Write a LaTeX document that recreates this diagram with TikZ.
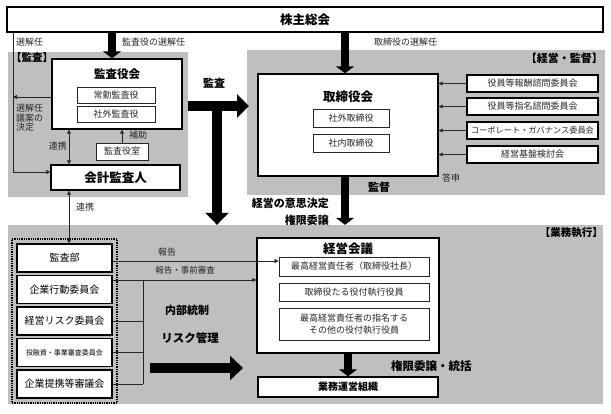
\documentclass[tikz,border=0pt]{standalone}
\usepackage{fontspec}
\setmainfont{Noto Sans CJK JP}
\usetikzlibrary{arrows.meta}
\definecolor{bggray}{RGB}{191,191,191}
\begin{document}
\begin{tikzpicture}[x=1pt,y=-1pt,
  rect/.style args={#1/#2/#3/#4}{at={({(#1+#3)/2},{(#2+#4)/2})},anchor=center,
     minimum width={(#3-#1)*1pt},minimum height={(#4-#2)*1pt}},
  bg/.style={fill=bggray,draw=none,inner sep=0pt},
  mainbox/.style={draw=black,line width=1.4pt,fill=white,inner sep=0pt},
  subbox/.style={draw=black!85,line width=0.8pt,fill=white,inner sep=0pt,text=black!85},
  commbox/.style={draw=black,line width=1.1pt,fill=white,inner sep=0pt,text=black!85},
  lbl/.style={inner sep=0pt,text=black!85,font=\fontsize{9}{10}\selectfont},
  t9/.style={font=\fontsize{9}{11}\selectfont},
  t10/.style={font=\fontsize{10}{12}\selectfont},
  bt/.style={inner sep=0pt,font=\bfseries\fontsize{11}{13}\selectfont},
  btitle/.style={inner sep=0pt,font=\bfseries\fontsize{12.5}{14}\selectfont},
  tarrow/.style={draw=black!85,line width=0.6pt,-{Triangle[length=4pt,width=4pt]}},
  tarrow2/.style={draw=black!85,line width=0.6pt,{Triangle[length=4pt,width=4pt]}-{Triangle[length=4pt,width=4pt]}},
  tline/.style={draw=black!85,line width=0.6pt},
  bigA/.style={line width=8pt,-{Triangle[length=7pt,width=18pt]}},
  bigB/.style={line width=10pt,-{Triangle[length=12pt,width=23pt]}},
]
\useasboundingbox (0,0) rectangle (611,413);
\fill[white] (0,0) rectangle (611,413);

% backgrounds
\node[bg,rect=8/52/188/197] (auditbg) {};
\node[bg,rect=247/50/605/195] (mgmtbg) {};
\node[bg,rect=8/225/603/404] (execbg) {};

% shareholders meeting
\node[mainbox,rect=7/7/603/32,font=\bfseries\fontsize{12.5}{14}\selectfont] (agm) {株主総会};

% top labels
\node[lbl,anchor=west] (l1) at (16,42) {選解任};
\node[lbl,anchor=west] (l2) at (122,42) {監査役の選解任};
\node[lbl,anchor=west] (l3) at (374,42) {取締役の選解任};

% audit area
\node[bt,anchor=west,font=\bfseries\fontsize{10.5}{12}\selectfont] (labA) at (11,58) {【監査】};
\node[mainbox,rect=52/59/182/129] (kab) {};
\node[btitle,font=\bfseries\fontsize{11.5}{13}\selectfont] (kabT) at (117,74) {監査役会};
\node[subbox,rect=77/87/155/103,t9] (jokin) {常勤監査役};
\node[subbox,rect=77/106/155/122,t9] (shagai) {社外監査役};
\node[subbox,rect=96/143/148/160,t9] (shitsu) {監査役室};
\node[mainbox,rect=51/165/180/190,font=\bfseries\fontsize{12.5}{14}\selectfont] (kaikei) {会計監査人};

\draw[tarrow] (shitsu.north) -- (shitsu.north |- kab.south);
\node[lbl,anchor=west] (hojo) at (129,135) {補助};
\draw[tarrow2] (kaikei.north -| 69,0) -- (kab.south -| 69,0);
\node[lbl,anchor=east] (renkei1) at (67,146) {連携};

\coordinate (lt) at (13,32);
\coordinate (lb) at (13,172);
\draw[tline] (lt) -- (lb);
\draw[tarrow] (lb) -- (lb -| kaikei.west);
\draw[tarrow] (kab.west |- 0,97) -- (13,97);
\node[lbl,anchor=north west,align=left,font=\fontsize{9}{9.6}\selectfont] (giansel) at (16,104) {選解任\\議案の\\決定};

\draw[bigA] (agm.south -| 112,0) -- (kab.north -| 112,0);

% audit -> thick T arrow
\draw[bigB] (auditbg.east |- 0,106) -- (249,106);
\draw[bigB] (217,101) -- (execbg.north -| 217,0);
\node[bt] (kansa) at (214,83) {監査};

% management area
\node[bt,anchor=east] (labM) at (603,58) {【経営・監督】};
\node[mainbox,rect=258/74/438/176] (tb) {};
\node[btitle] (tbT) at (348,97) {取締役会};
\node[subbox,rect=313/109/389/127,t9] (shagaiT) {社外取締役};
\node[subbox,rect=313/134/389/152,t9] (shanaiT) {社内取締役};

\node[commbox,rect=467/75/598/92,t9] (c1) {役員等報酬諮問委員会};
\node[commbox,rect=467/98/598/115,t9] (c2) {役員等指名諮問委員会};
\node[commbox,rect=467/122/598/139,font=\fontsize{8.2}{10}\selectfont] (c3) {コーポレート・ガバナンス委員会};
\node[commbox,rect=467/146/598/163,t9] (c4) {経営基盤検討会};
\foreach \c in {c1,c2,c3,c4} \draw[tarrow] (\c.west) -- (\c.west -| tb.east);
\node[lbl] (toshin) at (451,178) {答申};
\node[bt] (kantoku) at (379,187) {監督};

\draw[bigA] (agm.south -| 345,0) -- (tb.north -| 345,0);
\draw[bigA] (tb.south -| 345,0) -- (execbg.north -| 345,0);
\node[bt,anchor=east] (ishi) at (329,203) {経営の意思決定};
\node[bt,anchor=east] (iijo) at (329,220) {権限委譲};

% execution area
\node[bt,anchor=east,font=\bfseries\fontsize{10.5}{12}\selectfont] (labE) at (603,233) {【業務執行】};
\node[mainbox,rect=257/238/439/353] (keiei) {};
\node[btitle] (keieiT) at (348,249) {経営会議};
\node[subbox,rect=279/257/429/276,t9] (b1) {最高経営責任者（取締役社長）};
\node[subbox,rect=279/283/429/301,t9] (b2) {取締役たる役付執行役員};
\node[subbox,rect=279/308/429/340,align=center,font=\fontsize{9}{12}\selectfont] (b3) {最高経営責任者の指名する\\その他の役付執行役員};
\node[mainbox,rect=258/377/438/397,font=\bfseries\fontsize{10}{12}\selectfont] (gyomu) {業務運営組織};
\draw[bigA] (keiei.south) -- (gyomu.north);
\node[bt,anchor=west,font=\bfseries\fontsize{11.5}{13}\selectfont] (tokatsu) at (391,366) {権限委譲・統括};

% left committees
\node[draw=black,densely dotted,line width=1.3pt,rect=12/239/117/403,inner sep=0pt] (dotbox) {};
\node[commbox,line width=1.3pt,rect=17/244/112/272,t10,text=black] (kansabu) {監査部};
\node[commbox,line width=1.3pt,rect=17/275.5/112/303.5,t10,text=black] (kodo) {企業行動委員会};
\node[commbox,line width=1.3pt,rect=17/307/112/335,t10,text=black] (risk) {経営リスク委員会};
\node[commbox,line width=1.3pt,rect=17/338.5/112/366.5,font=\fontsize{7}{8}\selectfont,text=black] (toyu) {投融資・事業審査委員会};
\node[commbox,line width=1.3pt,rect=17/370/112/398,t10,text=black] (teikei) {企業提携等審議会};

\draw[tarrow2] (kaikei.south -| 69,0) -- (kansabu.north -| 69,0);
\node[lbl,anchor=west] (renkei2) at (76,207) {連携};

\draw[tarrow] (kansabu.east |- 0,261) -- (b1.west |- 0,261);
\node[lbl] (hokoku) at (167,252) {報告};
\draw[tarrow] (kodo.east |- 0,280) -- (keiei.west |- 0,280);
\node[lbl,font=\fontsize{8.5}{10}\selectfont] (hokoku2) at (185,270) {報告・事前審査};
\coordinate (br1) at (143,280);
\coordinate (br2) at (143,384);
\draw[tline] (br1) -- (br2);
\draw[tline] (risk.east) -- (risk.east -| br1);
\draw[tline] (toyu.east) -- (toyu.east -| br1);
\draw[tline] (teikei.east) -- (teikei.east -| br1);

\node[bt] (naibu) at (187,310) {内部統制};
\node[bt,font=\bfseries\fontsize{11.5}{13}\selectfont] (riskk) at (190,338) {リスク管理};
\draw[line width=10pt,-{Triangle[length=13pt,width=24pt]}] (150,368) -- (243,368);
\end{tikzpicture}
\end{document}
